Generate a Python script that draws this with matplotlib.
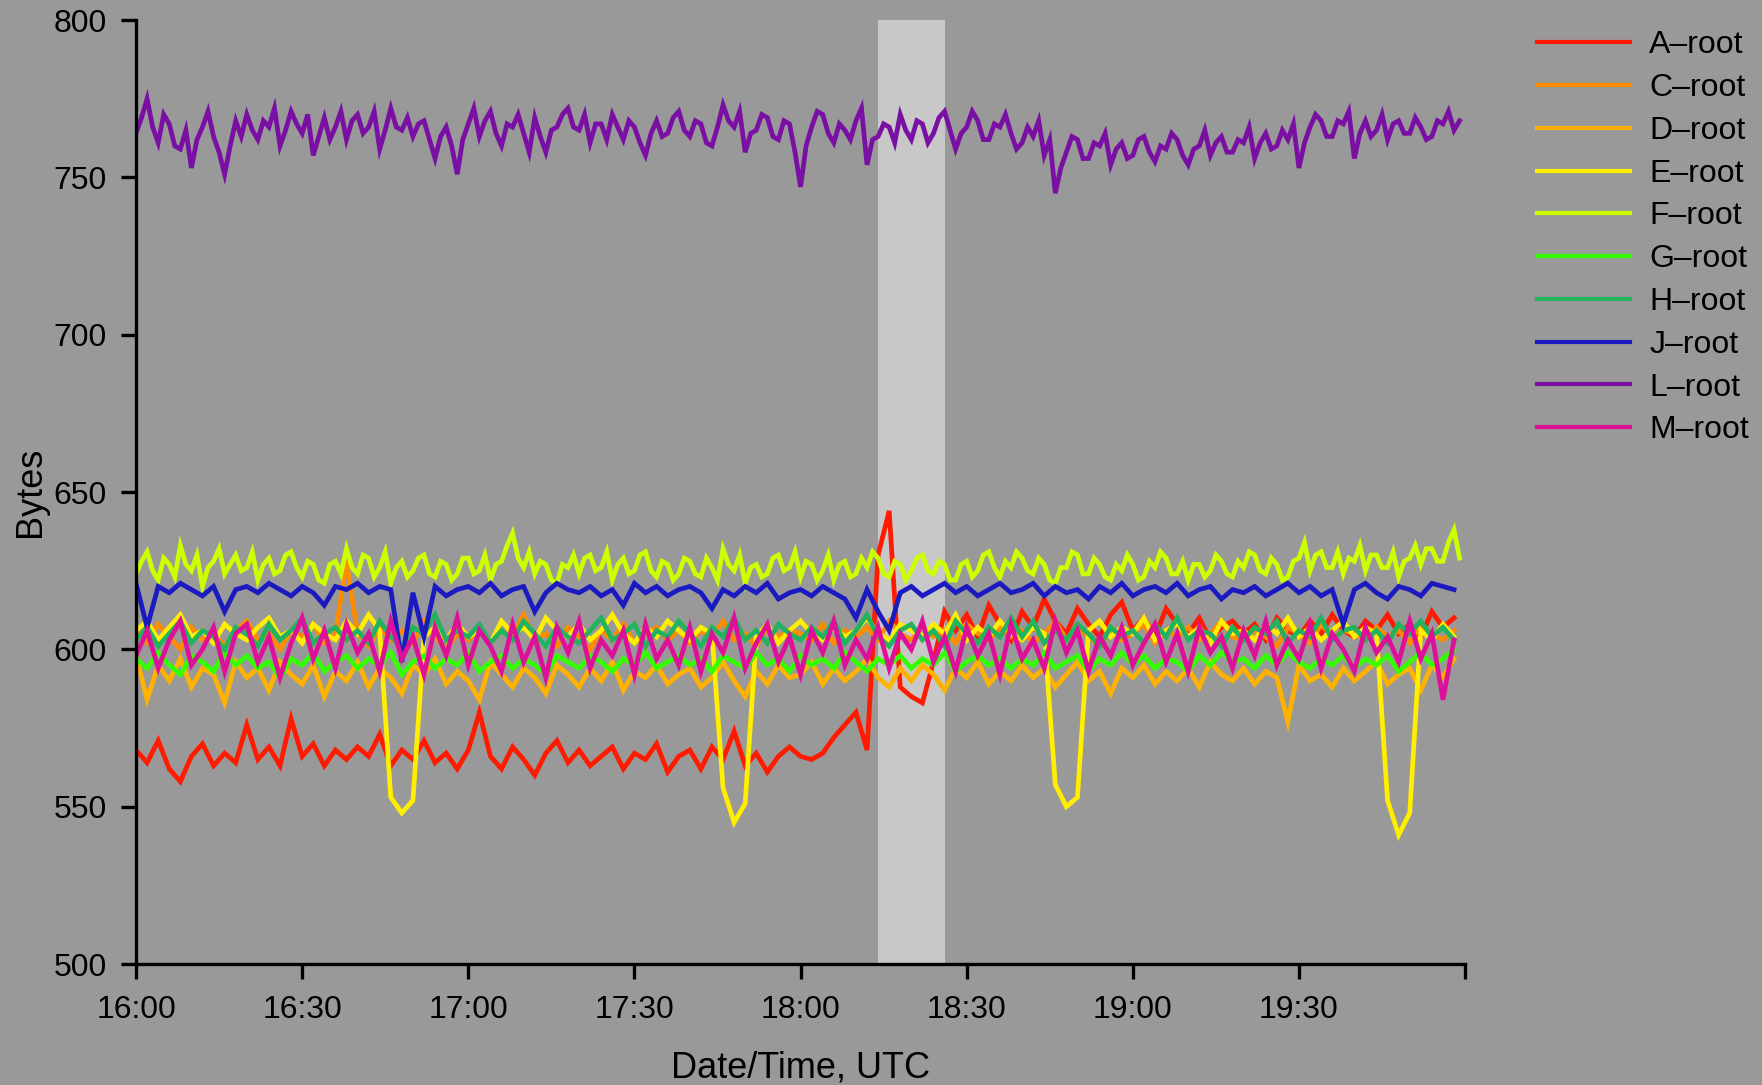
import numpy as np
import matplotlib.pyplot as plt

plt.rcParams['font.family'] = ['Liberation Sans', 'DejaVu Sans']

# sample times: minutes after 16:00 UTC
minutes = np.arange(0, 240, 2)      # 2-minute samples
minutes_fine = np.arange(0, 240)    # 1-minute samples (F and L)

# mean response size (bytes) per root server
a_root = [568, 564, 571, 562, 558, 566, 570, 563, 567, 564,
          576, 565, 569, 563, 578, 566, 570, 563, 568, 565,
          569, 566, 573, 563, 568, 565, 571, 564, 567, 562,
          568, 580, 566, 562, 569, 565, 560, 567, 571, 564,
          568, 563, 566, 569, 562, 567, 565, 570, 561, 566,
          568, 562, 569, 565, 574, 563, 567, 561, 566, 569,
          566, 565, 567, 572, 576, 580, 568, 630, 644, 588,
          585, 583, 596, 612, 606, 611, 604, 614, 608, 603,
          612, 607, 616, 609, 605, 613, 608, 604, 611, 615,
          606, 610, 604, 613, 608, 605, 610, 603, 607, 609,
          605, 608, 603, 610, 606, 604, 609, 605, 611, 606,
          604, 609, 606, 611, 605, 608, 604, 612, 607, 610]
c_root = [606, 602, 608, 604, 600, 607, 603, 605, 601, 606,
          609, 603, 605, 600, 606, 604, 608, 602, 605, 628,
          605, 601, 607, 603, 606, 602, 609, 604, 600, 605,
          603, 607, 602, 606, 604, 611, 603, 605, 601, 607,
          604, 600, 606, 603, 608, 602, 605, 607, 603, 606,
          602, 606, 604, 609, 603, 605, 601, 607, 604, 606,
          605, 603, 608, 602, 606, 604, 607, 603, 609, 605,
          603, 607, 604, 606, 602, 608, 605, 603, 607, 604,
          606, 602, 605, 609, 603, 607, 604, 601, 606, 603,
          605, 608, 602, 606, 604, 607, 603, 605, 609, 604,
          603, 606, 604, 601, 607, 605, 602, 608, 604, 606,
          605, 603, 607, 604, 606, 602, 608, 605, 603, 606]
d_root = [598, 584, 595, 590, 597, 588, 594, 592, 583, 596,
          591, 594, 587, 596, 592, 589, 595, 585, 593, 590,
          596, 588, 594, 591, 586, 595, 592, 597, 589, 593,
          590, 584, 596, 592, 588, 594, 591, 586, 595, 592,
          588, 594, 590, 596, 587, 593, 591, 595, 589, 592,
          594, 588, 591, 596, 590, 585, 593, 589, 595, 591,
          592, 596, 589, 594, 590, 593, 597, 591, 588, 594,
          590, 595, 592, 587, 594, 591, 596, 589, 593, 590,
          595, 591, 594, 588, 592, 596, 590, 593, 586, 594,
          591, 595, 589, 593, 590, 594, 588, 596, 592, 590,
          594, 589, 593, 591, 577, 595, 590, 592, 588, 594,
          590, 593, 596, 589, 592, 594, 587, 595, 591, 597]
e_root = [606, 609, 603, 607, 611, 604, 606, 602, 608, 605,
          603, 607, 610, 604, 606, 602, 608, 605, 603, 609,
          605, 611, 606, 553, 548, 552, 604, 607, 603, 608,
          604, 606, 602, 609, 605, 607, 603, 610, 606, 604,
          608, 603, 606, 611, 605, 602, 607, 604, 609, 606,
          603, 607, 605, 556, 545, 551, 604, 608, 602, 606,
          609, 605, 603, 607, 604, 606, 610, 605, 603, 608,
          606, 604, 608, 605, 611, 603, 607, 604, 609, 605,
          603, 607, 605, 557, 550, 553, 606, 609, 604, 607,
          605, 610, 603, 606, 608, 604, 607, 602, 609, 605,
          606, 603, 608, 605, 610, 604, 607, 603, 606, 609,
          604, 607, 605, 552, 541, 548, 606, 603, 608, 604]
f_root = [624, 628, 631, 625, 622, 629, 627, 623, 633, 627, 625, 630, 620, 626, 628, 632, 624, 627, 630, 625,
          626, 631, 622, 627, 629, 624, 625, 630, 631, 626, 623, 628, 627, 622, 621, 627, 628, 624, 632, 626,
          624, 630, 629, 623, 626, 631, 621, 626, 628, 623, 625, 629, 630, 624, 623, 628, 627, 622, 624, 629,
          629, 624, 625, 630, 622, 627, 628, 633, 637, 629, 626, 631, 624, 628, 627, 622, 621, 627, 626, 630,
          624, 629, 630, 625, 626, 631, 622, 627, 629, 624, 625, 630, 631, 625, 623, 628, 627, 622, 624, 629,
          628, 624, 623, 629, 626, 622, 632, 627, 625, 630, 621, 626, 627, 623, 624, 629, 630, 625, 626, 631,
          623, 628, 627, 622, 625, 630, 622, 627, 628, 623, 624, 629, 626, 631, 629, 624, 623, 628, 627, 622,
          625, 629, 630, 625, 624, 628, 627, 622, 622, 627, 628, 623, 625, 630, 631, 626, 623, 628, 626, 631,
          629, 625, 624, 629, 627, 622, 621, 626, 626, 631, 630, 624, 624, 629, 627, 623, 622, 627, 625, 630,
          627, 622, 623, 628, 626, 631, 629, 624, 624, 628, 622, 627, 627, 623, 625, 630, 628, 624, 623, 628,
          626, 631, 630, 625, 624, 629, 627, 622, 623, 628, 629, 634, 625, 630, 631, 626, 626, 631, 624, 629,
          628, 633, 625, 630, 630, 626, 626, 631, 623, 628, 629, 633, 627, 632, 632, 628, 628, 634, 638, 629]
g_root = [597, 594, 599, 595, 592, 598, 596, 593, 599, 595,
          598, 594, 596, 591, 597, 595, 599, 593, 596, 598,
          594, 597, 595, 599, 592, 596, 598, 594, 597, 595,
          599, 593, 596, 598, 594, 597, 595, 592, 598, 596,
          594, 598, 596, 593, 597, 595, 599, 594, 596, 598,
          595, 597, 593, 598, 596, 594, 599, 595, 597, 593,
          598, 595, 597, 594, 599, 596, 593, 597, 595, 598,
          594, 597, 595, 599, 593, 596, 598, 595, 597, 594,
          597, 595, 599, 594, 596, 598, 593, 597, 595, 599,
          595, 598, 594, 597, 596, 593, 598, 595, 599, 596,
          597, 594, 598, 595, 599, 596, 594, 597, 595, 598,
          594, 597, 595, 598, 593, 596, 599, 595, 597, 600]
h_root = [603, 607, 601, 605, 609, 602, 606, 604, 600, 607,
          605, 601, 608, 603, 606, 610, 602, 605, 607, 603,
          606, 602, 609, 604, 601, 607, 605, 611, 603, 606,
          604, 608, 602, 606, 603, 609, 605, 601, 607, 604,
          602, 606, 610, 603, 605, 608, 601, 606, 604, 609,
          605, 601, 607, 604, 610, 603, 606, 602, 608, 605,
          603, 607, 604, 609, 602, 606, 611, 604, 601, 606,
          608, 603, 606, 601, 609, 605, 602, 607, 604, 610,
          604, 609, 602, 606, 603, 608, 605, 601, 607, 604,
          606, 602, 608, 604, 610, 603, 606, 605, 601, 607,
          603, 607, 605, 609, 602, 606, 604, 610, 603, 606,
          607, 603, 606, 602, 608, 605, 609, 604, 607, 603]
j_root = [621, 607, 620, 618, 621, 619, 617, 620, 612, 619,
          620, 618, 621, 619, 617, 620, 618, 614, 620, 619,
          621, 618, 620, 619, 596, 618, 604, 620, 617, 619,
          620, 618, 621, 617, 619, 620, 612, 618, 621, 619,
          618, 620, 617, 619, 614, 621, 618, 620, 617, 619,
          620, 618, 613, 619, 617, 620, 618, 621, 616, 618,
          619, 617, 620, 618, 616, 610, 619, 612, 606, 618,
          620, 617, 619, 621, 618, 620, 617, 619, 621, 618,
          619, 621, 617, 620, 618, 619, 616, 620, 618, 621,
          617, 619, 620, 618, 621, 617, 619, 620, 616, 619,
          618, 620, 617, 619, 621, 618, 620, 617, 619, 608,
          619, 621, 618, 616, 620, 619, 617, 621, 620, 619]
l_root = [764, 769, 775, 766, 761, 770, 767, 760, 759, 765, 753, 762, 766, 771, 763, 758, 751, 760, 768, 763,
          770, 765, 762, 768, 766, 772, 760, 765, 771, 767, 764, 770, 757, 763, 769, 762, 766, 771, 762, 768,
          770, 764, 766, 771, 759, 765, 772, 766, 765, 769, 763, 767, 768, 762, 756, 763, 766, 760, 751, 762,
          767, 772, 763, 768, 771, 764, 760, 767, 766, 770, 764, 758, 769, 763, 758, 765, 766, 770, 772, 766,
          765, 770, 761, 767, 767, 762, 770, 766, 762, 768, 766, 761, 757, 764, 768, 763, 764, 769, 771, 765,
          763, 768, 767, 761, 760, 766, 773, 768, 766, 771, 758, 764, 765, 770, 769, 763, 762, 768, 767, 758,
          747, 760, 766, 771, 770, 764, 761, 767, 765, 762, 768, 772, 754, 762, 763, 767, 766, 761, 770, 765,
          762, 768, 767, 761, 764, 769, 771, 765, 759, 764, 766, 771, 768, 762, 762, 767, 766, 770, 764, 759,
          761, 766, 763, 768, 757, 762, 745, 753, 758, 763, 762, 756, 756, 761, 760, 764, 754, 759, 761, 756,
          757, 762, 763, 758, 755, 760, 759, 764, 762, 757, 754, 759, 760, 765, 757, 761, 763, 758, 758, 762,
          761, 766, 756, 761, 764, 759, 760, 765, 762, 767, 753, 761, 766, 770, 768, 763, 763, 768, 767, 771,
          756, 764, 768, 763, 765, 770, 762, 767, 768, 764, 764, 769, 766, 762, 763, 768, 767, 771, 765, 768]
m_root = [598, 606, 594, 603, 609, 595, 600, 607, 593, 605,
          608, 596, 604, 591, 602, 610, 597, 606, 594, 608,
          599, 605, 593, 609, 597, 604, 592, 607, 598, 610,
          595, 606, 601, 593, 608, 596, 604, 591, 607, 599,
          609, 594, 603, 598, 606, 592, 608, 597, 603, 595,
          607, 593, 605, 599, 610, 594, 602, 608, 596, 604,
          592, 606, 599, 609, 595, 603, 597, 607, 594, 605,
          600, 609, 596, 604, 593, 607, 598, 605, 592, 608,
          597, 603, 594, 609, 599, 606, 593, 604, 598, 607,
          595, 602, 608, 596, 605, 593, 607, 599, 604, 594,
          606, 598, 609, 595, 603, 597, 608, 594, 605, 600,
          593, 607, 599, 604, 596, 609, 597, 605, 584, 603]

labels = ['A\u2013root', 'C\u2013root', 'D\u2013root', 'E\u2013root', 'F\u2013root',
          'G\u2013root', 'H\u2013root', 'J\u2013root', 'L\u2013root', 'M\u2013root']
series = [a_root, c_root, d_root, e_root, f_root,
          g_root, h_root, j_root, l_root, m_root]
colors = ['#ff1a00', '#ff8c00', '#ffb300', '#ffee00', '#ccff00',
          '#33ff00', '#22b35e', '#1a1ac0', '#7a0fa3', '#dd1199']

# highlighted interval (minutes after 16:00)
event_start, event_end = 134, 146

tick_pos = [0, 30, 60, 90, 120, 150, 180, 210, 240]
tick_lab = ['16:00', '16:30', '17:00', '17:30', '18:00', '18:30', '19:00', '19:30', '']

bg = '#999999'
fig = plt.figure(figsize=(17.62, 10.85), dpi=100)
fig.patch.set_facecolor(bg)
ax = fig.add_axes([0.0772, 0.1115, 0.7543, 0.870])
ax.set_facecolor(bg)

ax.axvspan(event_start, event_end, color='#c8c8c8', lw=0, zorder=0)

for vals, lab, col in zip(series, labels, colors):
    t = minutes_fine if len(vals) == len(minutes_fine) else minutes
    ax.plot(t, vals, color=col, lw=3.4, label=lab, zorder=2,
            solid_joinstyle='miter')

ax.set_xlim(0, 240)
ax.set_ylim(500, 800)
ax.set_xticks(tick_pos)
ax.set_xticklabels(tick_lab)
ax.set_yticks(np.arange(500, 801, 50))

ax.spines['top'].set_visible(False)
ax.spines['right'].set_visible(False)
for s in ['left', 'bottom']:
    ax.spines[s].set_linewidth(2.4)
ax.tick_params(axis='both', direction='out', length=11, width=2.4, labelsize=23)
ax.tick_params(axis='y', pad=10)
ax.tick_params(axis='x', pad=11)

ax.set_xlabel('Date/Time, UTC', fontsize=26, labelpad=19)
ax.set_ylabel('Bytes', fontsize=26, labelpad=4)

leg = ax.legend(loc='upper left', bbox_to_anchor=(0.8723, 0.972), bbox_transform=fig.transFigure,
                frameon=False, fontsize=23, handlelength=2.9, handletextpad=0.62,
                labelspacing=0.4, borderpad=0, borderaxespad=0)
for h in leg.get_lines():
    h.set_linewidth(3.0)

fig.savefig('out.png', dpi=100, facecolor=bg)
